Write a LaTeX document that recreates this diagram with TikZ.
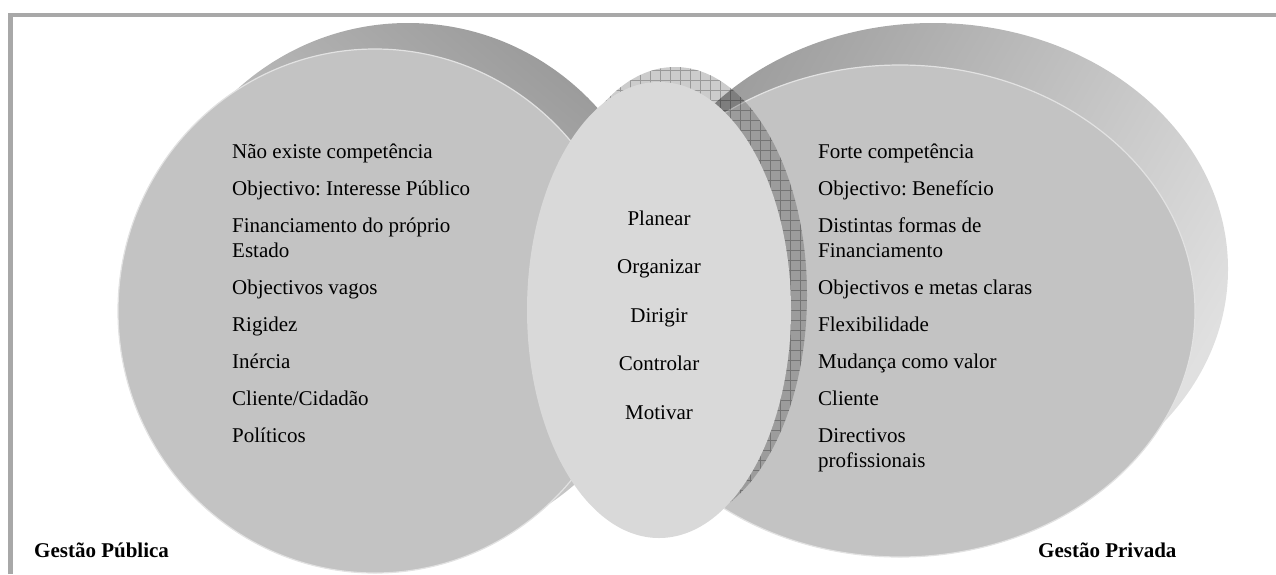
\documentclass[tikz,border=0pt]{standalone}
\usepackage{fontspec}
\setmainfont{Liberation Serif}
\frenchspacing

\definecolor{framegray}{HTML}{A8A8A8}
\definecolor{facegray}{HTML}{C3C3C3}
\definecolor{midgray}{HTML}{D9D9D9}
\definecolor{rimgray}{HTML}{E2E2E2}
\definecolor{banddark}{HTML}{9C9C9C}
\definecolor{bandlight}{HTML}{E0E0E0}

\tikzset{
  face/.style={fill=facegray, draw=rimgray, line width=1.2pt},
  itemlist/.style={font=\fontsize{21}{25}\selectfont, align=left, inner sep=0pt, anchor=base west},
  midword/.style={font=\fontsize{21}{25}\selectfont, inner sep=0pt, anchor=base},
  sidetitle/.style={font=\fontsize{21}{25}\selectfont\bfseries, inner sep=0pt, anchor=base west}
}

\begin{document}
\begin{tikzpicture}[x=1pt,y=-1pt]
  \useasboundingbox (0,0) rectangle (1276,574);
  % frame
  \draw[framegray,line width=4.5pt] (10.5,574) -- (10.5,15) -- (1276,15);

  % Gestao Publica disc
  \shade[top color=banddark, bottom color=bandlight, shading angle=-40]
    (408,285) ellipse [x radius=257, y radius=262];
  \draw[face] (375,311) ellipse [x radius=257, y radius=262];

  % Gestao Privada disc
  \shade[top color=banddark, bottom color=bandlight, shading angle=60]
    (933,269) ellipse [x radius=295, y radius=246];
  \draw[face] (900,311) ellipse [x radius=295, y radius=246];

  % common part
  \fill[black, fill opacity=0.2] (675,295) ellipse [x radius=132, y radius=228];
  \begin{scope}
    \clip (675,295) ellipse [x radius=132, y radius=228];
    \draw[black, opacity=0.25, line width=0.6pt, step=10pt] (540,60) grid (810,530);
  \end{scope}
  \fill[midgray] (659,310) ellipse [x radius=132, y radius=228];

  % texts (base = last line)
  \node[itemlist] (publica) at (232,442) {N\~ao existe compet\^encia\\[12pt]
    Objectivo: Interesse P\'ublico\\[12pt]
    Financiamento do pr\'oprio\\Estado\\[12pt]
    Objectivos vagos\\[12pt]
    Rigidez\\[12pt]
    In\'ercia\\[12pt]
    Cliente/Cidad\~ao\\[12pt]
    Pol\'iticos};
  \node[itemlist] (privada) at (818,467) {Forte compet\^encia\\[12pt]
    Objectivo: Benef\'icio\\[12pt]
    Distintas formas de\\Financiamento\\[12pt]
    Objectivos e metas claras\\[12pt]
    Flexibilidade\\[12pt]
    Mudan\c{c}a como valor\\[12pt]
    Cliente\\[12pt]
    Directivos\\profissionais};
  \foreach \w [count=\i] in {Planear,Organizar,Dirigir,Controlar,Motivar}
    \node[midword] (mid\i) at (659,{225+48.5*(\i-1)}) {\w};

  \node[sidetitle] (tpublica) at (34,557) {Gest\~ao P\'ublica};
  \node[sidetitle] (tprivada) at (1038,557) {Gest\~ao Privada};
\end{tikzpicture}
\end{document}
